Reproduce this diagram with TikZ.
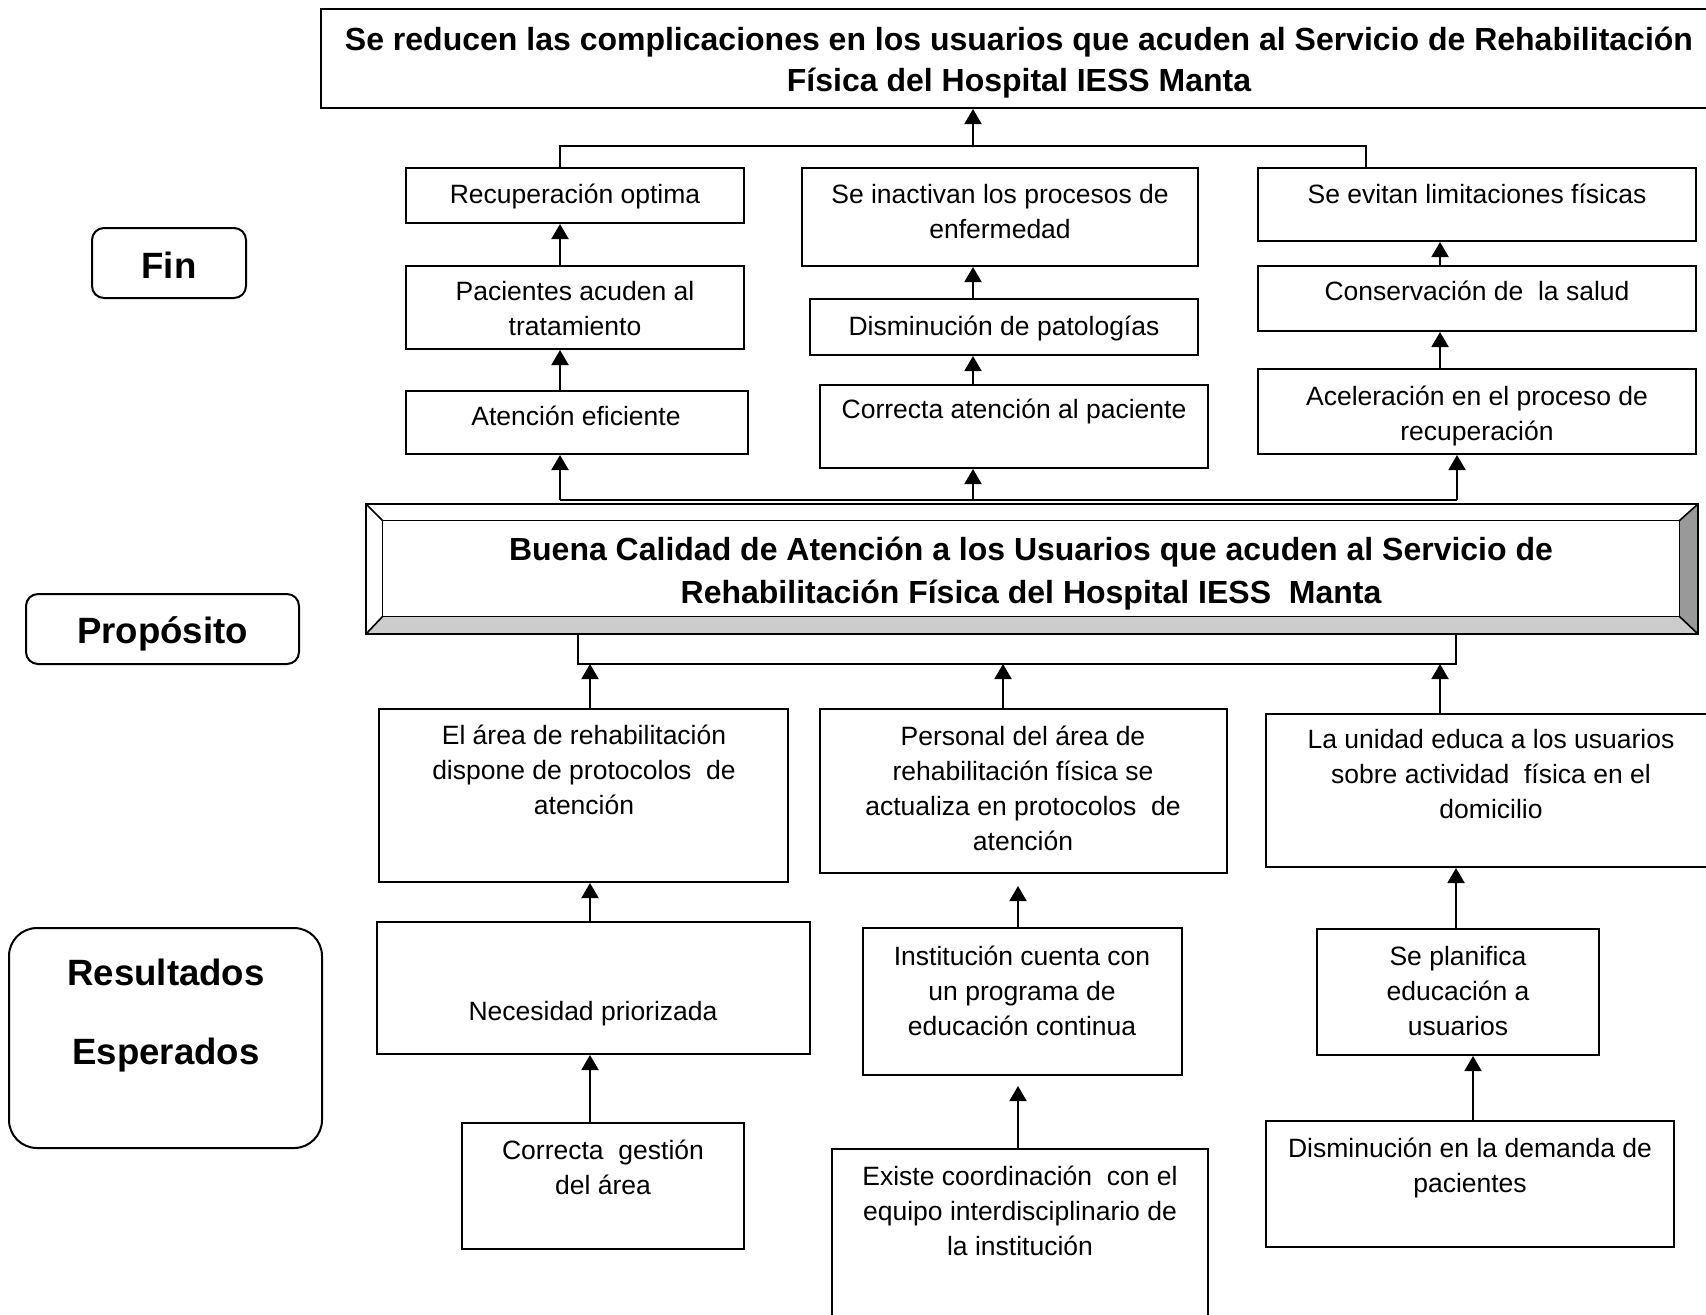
\documentclass[tikz,border=0pt]{standalone}
\usepackage{fontspec}
\setmainfont{Liberation Sans}
\usetikzlibrary{arrows.meta,fit}
\begin{document}
\begin{tikzpicture}[x=0.5pt,y=-0.5pt,
  box/.style={draw, line width=1pt, inner sep=0pt},
  lbox/.style={draw, line width=1pt, inner sep=0pt, rounded corners=6pt},
  txt/.style={inner sep=0pt, anchor=base, align=center, font=\fontsize{13.25}{17.5}\selectfont},
  ttl/.style={inner sep=0pt, anchor=base, align=center, font=\bfseries\fontsize{16}{20.75}\selectfont},
  lbl/.style={inner sep=0pt, anchor=base, align=center, font=\bfseries\fontsize{18.3}{39.5}\selectfont},
  arr/.style={line width=1pt, -{Triangle[width=8.5pt,length=7.5pt]}},
  ln/.style={line width=0.8pt}]
\useasboundingbox (0,0) rectangle (1706,1314);
\clip (0,0) rectangle (1706,1314);

% columns
\coordinate (c560) at (560,0);
\coordinate (c973) at (973,0);
\coordinate (c1440) at (1440,0);
\coordinate (c590) at (590,0);
\coordinate (c1003) at (1003,0);
\coordinate (c1018) at (1018,0);
\coordinate (c1456) at (1456,0);
\coordinate (c1473) at (1473,0);

% top box
\node[box, fit={(321,9) (1717,108)}] (top) {};
\node[ttl] (toptxt) at (1019,91.5) {Se reducen las complicaciones en los usuarios que acuden al Servicio de Rehabilitación\\Física del Hospital IESS Manta};

% left labels
\node[lbox, fit={(92,228) (246,298)}] (fin) {};
\node[lbl] (fintxt) at (169,278) {Fin};
\node[lbox, fit={(26,594) (299,664)}] (pro) {};
\node[lbl] (protxt) at (162.5,643) {Propósito};
\node[lbox, rounded corners=14pt, fit={(9,928) (322,1148)}] (res) {};
\node[lbl] (restxt) at (166,1064) {Resultados\\Esperados};

% Fin level boxes
\node[box, fit={(406,168) (744,223)}] (rec) {};
\node[txt] (rectxt) at (575,203) {Recuperación optima};
\node[box, fit={(406,266) (744,349)}] (pac) {};
\node[txt] (pactxt) at (575,335) {Pacientes acuden al\\tratamiento};
\node[box, fit={(406,391) (748,454)}] (ate) {};
\node[txt] (atetxt) at (576,425) {Atención eficiente};

\node[box, fit={(802,168) (1198,266)}] (ina) {};
\node[txt] (inatxt) at (1000,238) {Se inactivan los procesos de\\enfermedad};
\node[box, fit={(810,299) (1198,355)}] (dis) {};
\node[txt] (distxt) at (1004,335) {Disminución de patologías};
\node[box, fit={(820,385) (1208,468)}] (cor) {};
\node[txt] (cortxt) at (1014,418) {Correcta atención al paciente};

\node[box, fit={(1258,168) (1696,241)}] (evi) {};
\node[txt] (evitxt) at (1477,203) {Se evitan limitaciones físicas};
\node[box, fit={(1258,266) (1696,331)}] (con) {};
\node[txt] (contxt) at (1477,300) {Conservación de\ \ la salud};
\node[box, fit={(1258,369) (1696,454)}] (ace) {};
\node[txt] (acetxt) at (1477,440) {Aceleración en el proceso de\\recuperación};

% top bracket
\coordinate (tbl) at (560,146);
\coordinate (tbr) at (1366,146);
\draw[ln] (rec.north -| tbl) -- (tbl) -- (tbr) -- (evi.north -| tbr);
\draw[arr] (tbl -| c973) -- (top.south -| c973);

\draw[arr] (pac.north -| c560) -- (rec.south -| c560);
\draw[arr] (ate.north -| c560) -- (pac.south -| c560);
\draw[arr] (dis.north -| c973) -- (ina.south -| c973);
\draw[arr] (cor.north -| c973) -- (dis.south -| c973);
\draw[arr] (con.north -| c1440) -- (evi.south -| c1440);
\draw[arr] (ace.north -| c1440) -- (con.south -| c1440);

% connector above purpose
\coordinate (ml) at (560,500);
\coordinate (mr) at (1457,500);
\draw[ln] (ml) -- (mr);
\draw[arr] (ml) -- (ate.south -| ml);
\draw[arr] (ml -| c973) -- (cor.south -| c973);
\draw[arr] (mr) -- (ace.south -| mr);

% bevel (purpose)
\node[inner sep=0pt, fit={(366,504) (1698,634)}] (prop) {};
\node[inner sep=0pt, fit={(383,521) (1679,616)}] (propin) {};
\fill[gray!40] (prop.south west) -- (prop.south east) -- (propin.south east) -- (propin.south west) -- cycle;
\fill[gray!80] (prop.north east) -- (prop.south east) -- (propin.south east) -- (propin.north east) -- cycle;
\draw[line width=1pt] (prop.south west) rectangle (prop.north east);
\draw[ln] (propin.south west) rectangle (propin.north east);
\draw[ln] (prop.north west) -- (propin.north west);
\draw[ln] (prop.north east) -- (propin.north east);
\draw[ln] (prop.south west) -- (propin.south west);
\draw[ln] (prop.south east) -- (propin.south east);
\node[ttl, font=\bfseries\fontsize{16}{21.5}\selectfont] (proptxt) at (1031,603) {Buena Calidad de Atención a los Usuarios que acuden al Servicio de\\Rehabilitación Física del Hospital IESS\ \ Manta};

% bottom bracket
\coordinate (bl) at (578,664);
\coordinate (br) at (1456,664);
\draw[ln] (prop.south -| bl) -- (bl) -- (br) -- (prop.south -| br);

% results level boxes
\node[box, fit={(379,709) (788,882)}] (are) {};
\node[txt] (aretxt) at (584,814) {El área de rehabilitación\\dispone de protocolos\ \ de\\atención};
\node[box, fit={(820,709) (1227,873)}] (per) {};
\node[txt] (pertxt) at (1023,850) {Personal del área de\\rehabilitación física se\\actualiza en protocolos\ \ de\\atención};
\node[box, fit={(1266,714) (1716,867)}] (uni) {};
\node[txt] (unitxt) at (1491,818) {La unidad educa a los usuarios\\sobre actividad\ \ física en el\\domicilio};

\node[box, fit={(377,922) (810,1054)}] (nec) {};
\node[txt] (nectxt) at (593,1020) {Necesidad priorizada};
\node[box, fit={(863,928) (1182,1075)}] (ins) {};
\node[txt] (instxt) at (1022,1035) {Institución cuenta con\\un programa de\\educación continua};
\node[box, fit={(1317,929) (1599,1055)}] (pla) {};
\node[txt] (platxt) at (1458,1035) {Se planifica\\educación a\\usuarios};

\node[box, fit={(462,1123) (744,1249)}] (ges) {};
\node[txt] (gestxt) at (603,1194) {Correcta\ \ gestión\\del área};
\node[box, fit={(832,1149) (1208,1340)}] (exi) {};
\node[txt] (exitxt) at (1020,1255) {Existe coordinación\ \ con el\\equipo interdisciplinario de\\la institución};
\node[box, fit={(1266,1121) (1674,1247)}] (dem) {};
\node[txt] (demtxt) at (1470,1192) {Disminución en la demanda de\\pacientes};

% arrows results
\draw[arr] (are.north -| c590) -- (bl -| c590);
\draw[arr] (per.north -| c1003) -- (bl -| c1003);
\draw[arr] (uni.north -| c1440) -- (bl -| c1440);
\draw[arr] (nec.north -| c590) -- (are.south -| c590);
\draw[arr] (ges.north -| c590) -- (nec.south -| c590);
\draw[arr, shorten >=6pt] (ins.north -| c1018) -- (per.south -| c1018);
\draw[arr, shorten >=5pt] (exi.north -| c1018) -- (ins.south -| c1018);
\draw[arr] (pla.north -| c1456) -- (uni.south -| c1456);
\draw[arr] (dem.north -| c1473) -- (pla.south -| c1473);
\end{tikzpicture}
\end{document}
